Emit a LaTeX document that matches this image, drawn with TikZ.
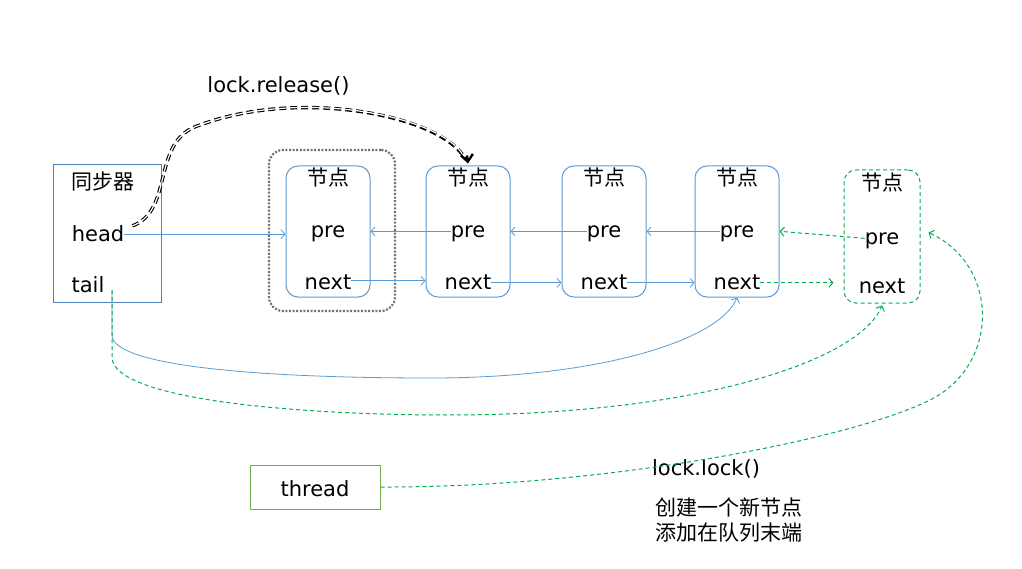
\documentclass[tikz,border=0pt]{standalone}
\usepackage{fontspec}
\setmainfont{DejaVu Sans}
\newfontfamily\cjk{Noto Sans CJK SC}
\usetikzlibrary{arrows.meta}
\definecolor{nblue}{RGB}{91,155,213}
\definecolor{sblue}{RGB}{79,129,189}
\definecolor{ngreen}{RGB}{0,176,80}
\definecolor{tgreen}{RGB}{112,173,71}
\definecolor{dgray}{RGB}{89,89,89}
\begin{document}
\begin{tikzpicture}[x=1pt,y=-1pt,font=\fontsize{21}{25}\selectfont,
  txt/.style={inner sep=0pt,anchor=base},
  nodebox/.style={draw=nblue,line width=1pt,rounded corners=12pt,minimum width=84pt,minimum height=131pt,inner sep=0pt},
  newbox/.style={draw=ngreen,line width=1pt,dash pattern=on 4pt off 3pt,rounded corners=12pt,minimum width=76pt,minimum height=133pt,inner sep=0pt},
  bl/.style={draw=nblue,line width=0.8pt,-{Straight Barb[length=4pt,width=9pt]}},
  gr/.style={draw=ngreen,line width=1pt,dash pattern=on 4pt off 3pt,-{Straight Barb[length=4pt,width=9pt]}}]
\useasboundingbox[fill=white] (0,0) rectangle (1022,569);

% synchronizer
\node[draw=sblue,line width=1pt,minimum width=108pt,minimum height=137pt,inner sep=0pt] (sync) at (107,233.5) {};
\node[txt] (syn) at (103,190) {\cjk 同步器};
\node[txt] (head) at (98,242) {head};
\node[txt] (tail) at (88,292) {tail};
\coordinate (tailpt) at (112,290);

% dotted group
\node[draw=dgray!85,line width=2.2pt,dash pattern=on 2pt off 1.6pt,rounded corners=14pt,minimum width=126pt,minimum height=161pt,inner sep=0pt] (grp) at (332,230.5) {};

% nodes
\foreach \i/\x in {1/328,2/468,3/604,4/737}{
  \node[nodebox] (box\i) at (\x,231.5) {};
  \node[txt] (t\i) at (\x,186) {\cjk 节点};
  \node[txt] (p\i) at (\x,238) {pre};
  \node[txt] (x\i) at (\x,290) {next};
  \coordinate (pa\i) at ([yshift=3pt]p\i.west);
}
\node[newbox] (box5) at (882,236.5) {};
\node[txt] (t5) at (882,191) {\cjk 节点};
\node[txt] (p5) at (882,245) {pre};
\node[txt] (x5) at (882,293) {next};
\coordinate (pa5) at ([yshift=3pt]p5.west);
\coordinate (xa1) at ([yshift=2pt]x1.east);
\coordinate (b5in) at ([shift={(8pt,4pt)}]box5.east);
\coordinate (b5nx) at ([xshift=-10pt]box5.west |- x4.east);

% thread and labels
\node[draw=tgreen,line width=1pt,minimum width=130pt,minimum height=44pt,inner sep=0pt] (thbox) at (315,487) {};
\node[txt] (thread) at (315,496) {thread};
\node[txt] (rel) at (278.5,93) {lock.release()};
\node[txt] (lk) at (706,475) {lock.lock()};
\node[txt,anchor=base west] (cn1) at (655,515) {\cjk 创建一个新节点};
\node[txt,anchor=base west] (cn2) at (655,540) {\cjk 添加在队列末端};

% blue links
\draw[bl] (head.east) -- (box1.west |- head.east);
\draw[bl] (pa2) -- (box1.east |- pa2);
\draw[bl] (pa3) -- (box2.east |- pa3);
\draw[bl] (pa4) -- (box3.east |- pa4);
\draw[bl] (xa1) -- (box2.west |- xa1);
\draw[bl] (x2.east) -- (box3.west |- x2.east);
\draw[bl] (x3.east) -- (box4.west |- x3.east);
\draw[bl] (tailpt) -- (112,335) .. controls (112,365) and (250,378) .. (431,378)
  .. controls (600,378) and (720,340) .. (box4.south);

% green links
\draw[gr] (x4.east) -- (b5nx);
\draw[gr] (pa5) -- (box4.east |- pa4);
\draw[gr] (tailpt) -- (112,357) .. controls (112,400) and (300,415) .. (449,415)
  .. controls (700,415) and (860,360) .. ([yshift=-2pt]box5.south);
\draw[gr] (thbox.east) .. controls (600,488) and (850,440) .. (930,400)
  .. controls (1000,365) and (1000,265) .. (b5in);

% release arrow (double dashed)
\draw[white,line width=1.2pt,dash pattern=on 7pt off 4pt,shorten >=9pt,
  preaction={draw=black,line width=3.4pt,dash pattern=on 7pt off 4pt,shorten >=6pt}]
  ([xshift=8pt]head.north east) .. controls (175,210) and (150,140) .. (200,125)
  .. controls (300,88) and (440,115) .. ([yshift=2pt]box2.north);
\draw[black,line width=2.4pt,{Straight Barb[length=7pt,width=12pt,line width=2.4pt]}-]
  ([yshift=2pt]box2.north) -- ++(-1,-8);
\end{tikzpicture}
\end{document}
